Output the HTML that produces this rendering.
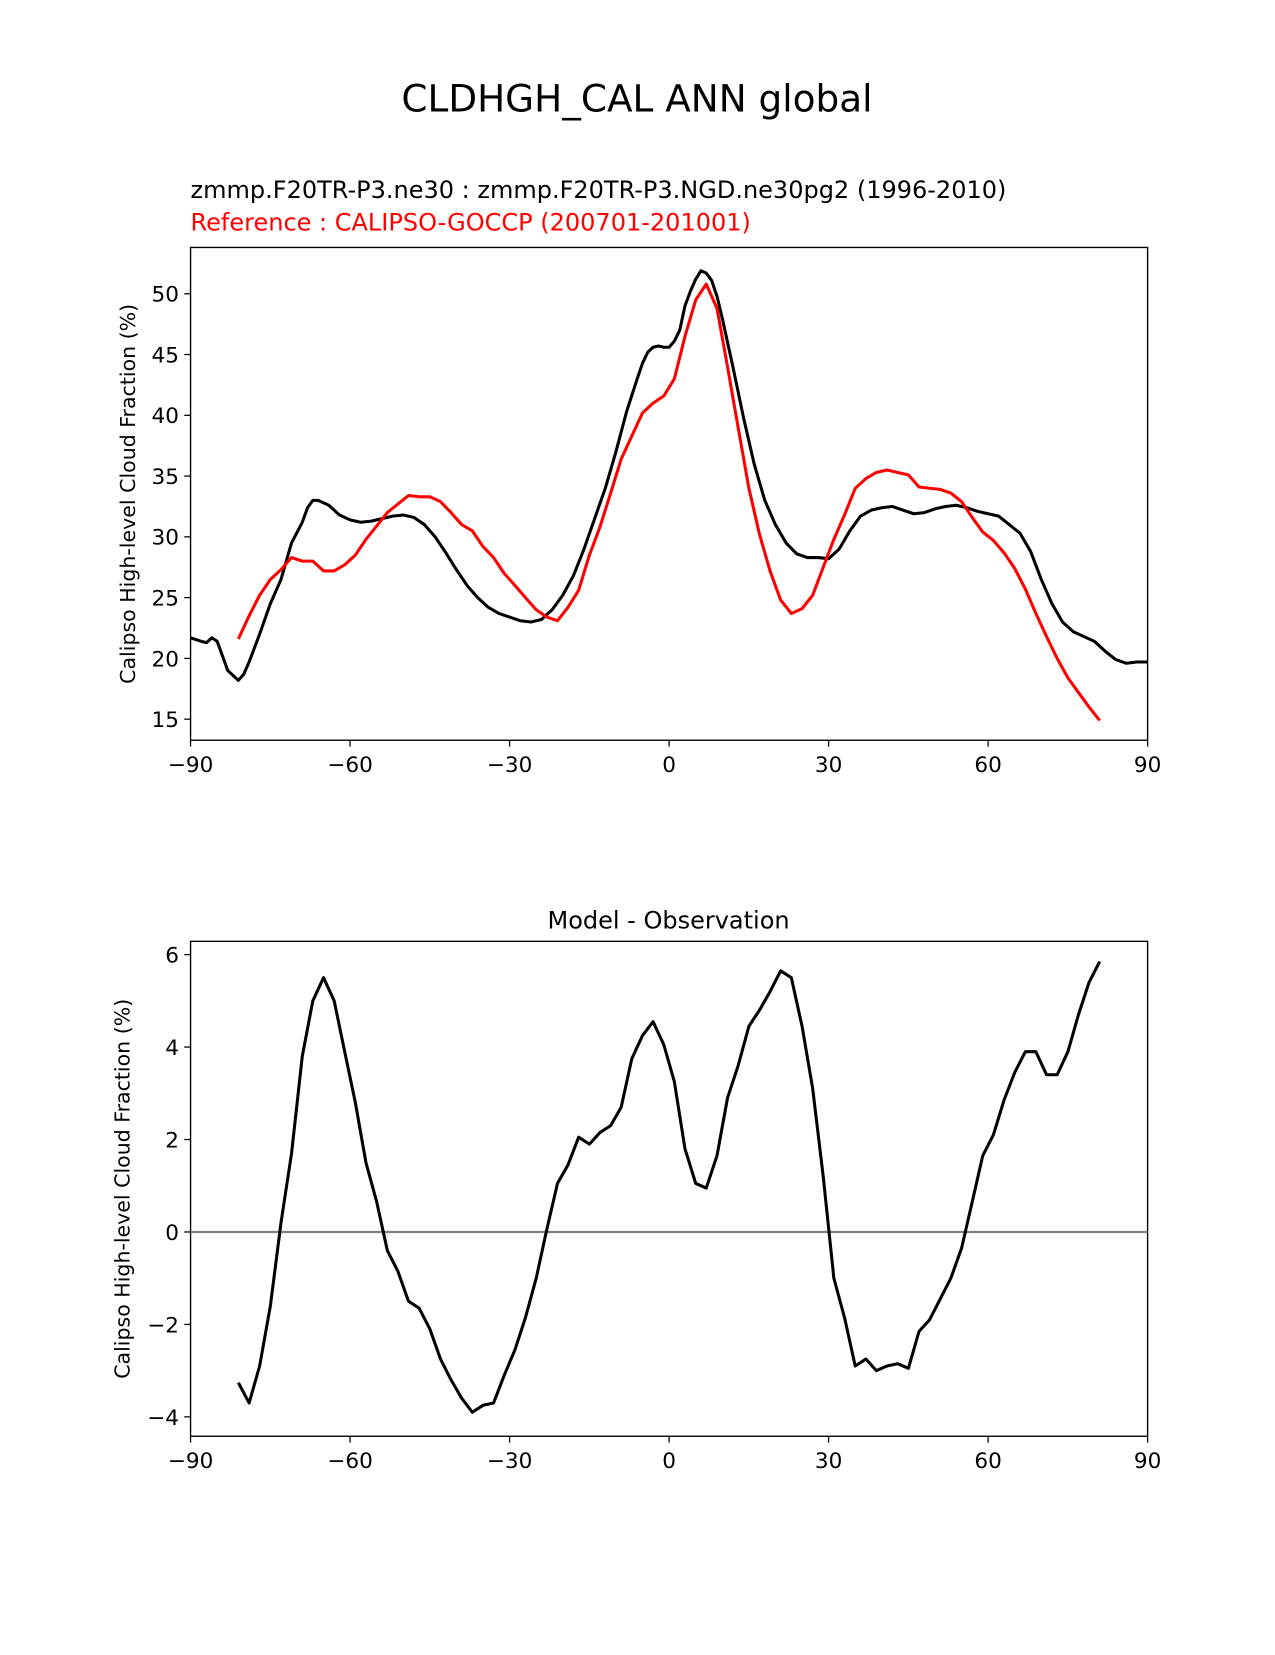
<!DOCTYPE html>
<html><head><meta charset="utf-8"><style>
body{margin:0;background:#fff}
svg text{font-family:"DejaVu Sans","Liberation Sans",sans-serif}
</style></head><body>
<svg id="chart" width="1275" height="1650" viewBox="0 0 1211 1567" preserveAspectRatio="none" xmlns="http://www.w3.org/2000/svg">
<text x="605" y="106" font-size="35.5" text-anchor="middle">CLDHGH_CAL ANN global</text>
<text x="181" y="188" font-size="22.8">zmmp.F20TR-P3.ne30 : zmmp.F20TR-P3.NGD.ne30pg2 (1996-2010)</text>
<text x="181" y="219" font-size="22.8" fill="#ff0000">Reference : CALIPSO-GOCCP (200701-201001)</text>
<text x="635" y="882" font-size="22.8" text-anchor="middle">Model - Observation</text>
<g id="top"></g>
<g id="bot"></g>
</svg>
<script>
const modelLat=[-90,-88,-87,-86,-85,-83,-81,-80,-79,-77,-75,-73,-71,-69,-68,-67,-66,-64,-62,-60,-58,-56,-54,-52,-50,-48,-46,-44,-42,-40,-38,-36,-34,-32,-30,-28,-26,-24,-22,-20,-18,-16,-14,-12,-10,-8,-6,-5,-4,-3,-2,-1,0,1,2,3,4,5,6,7,8,9,10,12,14,16,18,20,22,24,26,28,30,32,34,36,38,40,42,44,46,48,50,52,54,56,58,60,62,64,66,68,70,72,74,76,78,80,82,84,86,88,90];
const modelVal=[21.7,21.4,21.3,21.7,21.4,19.0,18.2,18.7,19.7,22.0,24.5,26.5,29.5,31.2,32.4,33.0,33.0,32.6,31.8,31.4,31.2,31.3,31.5,31.7,31.8,31.6,31.0,30.0,28.7,27.3,26.0,25.0,24.2,23.7,23.4,23.1,23.0,23.2,24.0,25.2,26.8,29.0,31.5,34.0,37.0,40.3,43.0,44.3,45.2,45.6,45.7,45.6,45.6,46.1,47.0,49.0,50.2,51.2,51.9,51.7,51.1,49.8,48.0,44.0,39.8,36.0,33.0,31.0,29.5,28.6,28.3,28.3,28.2,29.0,30.5,31.7,32.2,32.4,32.5,32.2,31.9,32.0,32.3,32.5,32.6,32.4,32.1,31.9,31.7,31.0,30.3,28.8,26.5,24.5,23.0,22.2,21.8,21.4,20.6,19.9,19.6,19.7,19.7];
const obsLat=[-81,-79,-77,-75,-73,-71,-69,-67,-65,-63,-61,-59,-57,-55,-53,-51,-49,-47,-45,-43,-41,-39,-37,-35,-33,-31,-29,-27,-25,-23,-21,-19,-17,-15,-13,-11,-9,-7,-5,-3,-1,1,3,5,7,9,11,13,15,17,19,21,23,25,27,29,31,33,35,37,39,41,43,45,47,49,51,53,55,57,59,61,63,65,67,69,71,73,75,77,79,81];
const obsVal=[21.6,23.5,25.2,26.5,27.3,28.3,28.0,28.0,27.2,27.2,27.7,28.5,29.8,30.9,32.0,32.7,33.4,33.3,33.3,32.9,32.0,31.0,30.5,29.2,28.3,27.0,26.0,25.0,24.0,23.4,23.1,24.2,25.6,28.5,30.8,33.6,36.4,38.3,40.2,41.0,41.6,43.0,46.5,49.5,50.8,48.8,44.0,39.0,34.0,30.2,27.2,24.8,23.7,24.1,25.2,27.5,29.8,31.8,34.0,34.8,35.3,35.5,35.3,35.1,34.1,34.0,33.9,33.6,32.9,31.6,30.4,29.7,28.7,27.4,25.7,23.7,21.8,20.0,18.4,17.2,16.0,14.9];
const diffVal=[-3.26,-3.7,-2.9,-1.6,0.2,1.7,3.8,5.0,5.5,5.0,3.9,2.8,1.5,0.65,-0.4,-0.85,-1.5,-1.65,-2.1,-2.75,-3.2,-3.6,-3.9,-3.75,-3.7,-3.1,-2.55,-1.85,-1.0,0.05,1.05,1.45,2.05,1.9,2.15,2.3,2.7,3.75,4.25,4.55,4.05,3.25,1.8,1.05,0.95,1.65,2.9,3.6,4.45,4.8,5.2,5.65,5.5,4.45,3.1,1.2,-1.0,-1.85,-2.9,-2.75,-3.0,-2.9,-2.85,-2.95,-2.15,-1.9,-1.45,-1.0,-0.35,0.65,1.65,2.1,2.85,3.45,3.9,3.9,3.4,3.4,3.9,4.7,5.4,5.85];
const xTicks=[-90,-60,-30,0,30,60,90];
const xTickLabels=["\u221290","\u221260","\u221230","0","30","60","90"];
const topYTicks=[15,20,25,30,35,40,45,50];
const botYTicks=[-4,-2,0,2,4,6];
const botYTickLabels=["\u22124","\u22122","0","2","4","6"];

const NS="http://www.w3.org/2000/svg";
function mk(parent,tag,attrs){const e=document.createElementNS(NS,tag);for(const k in attrs)e.setAttribute(k,attrs[k]);parent.appendChild(e);return e;}
const x=v=>181+(v+90)*(909/180);
const yTop=v=>279+(50-v)*(404/35);
const yBot=v=>1170-v*43.9;

function axes(g,top,bottom,yf,yt,ylabels,name){
  const fr=mk(g,'rect',{x:181,y:top,width:909,height:bottom-top,fill:'none',stroke:'#000','stroke-width':1.3});
  
  
  xTicks.forEach((t,i)=>{
    const l=mk(g,'line',{x1:x(t),x2:x(t),y1:bottom,y2:bottom+6,stroke:'#000','stroke-width':1.2});
    
    
    const tx=mk(g,'text',{x:x(t),y:bottom+30,'font-size':20.5,'text-anchor':'middle'});
    tx.textContent=xTickLabels[i];
    
    
  });
  yt.forEach((t,i)=>{
    const l=mk(g,'line',{x1:175,x2:181,y1:yf(t),y2:yf(t),stroke:'#000','stroke-width':1.2});
    
    
    const tx=mk(g,'text',{x:170,y:yf(t)+7.5,'font-size':20.5,'text-anchor':'end'});
    tx.textContent=ylabels[i];
    
    
  });
  const cy=(top+bottom)/2;
  const yl=mk(g,'text',{x:0,y:0,'font-size':19.5,'text-anchor':'middle',transform:`translate(${name==='top'?128:123},${cy}) rotate(-90)`});
  yl.textContent='Calipso High-level Cloud Fraction (%)';
  
  
}
function line(g,lats,vals,yf,color,name){
  const d=lats.map((l,i)=>(i?'L':'M')+x(l).toFixed(1)+','+yf(vals[i]).toFixed(1)).join(' ');
  const p=mk(g,'path',{d:d,fill:'none',stroke:color,'stroke-width':2.9,'stroke-linejoin':'round'});
  
  
}
const gt=document.getElementById('top'), gb=document.getElementById('bot');
axes(gt,235,703,yTop,topYTicks,topYTicks.map(String),'top');
line(gt,modelLat,modelVal,yTop,'#000','model-line');
line(gt,obsLat,obsVal,yTop,'#ff0000','observation-line');
axes(gb,894,1364,yBot,botYTicks,botYTickLabels,'bottom');
const z=mk(gb,'line',{x1:181,x2:1090,y1:yBot(0),y2:yBot(0),stroke:'#808080','stroke-width':2.1});


line(gb,obsLat,diffVal,yBot,'#000','difference-line');
</script>
</body></html>
